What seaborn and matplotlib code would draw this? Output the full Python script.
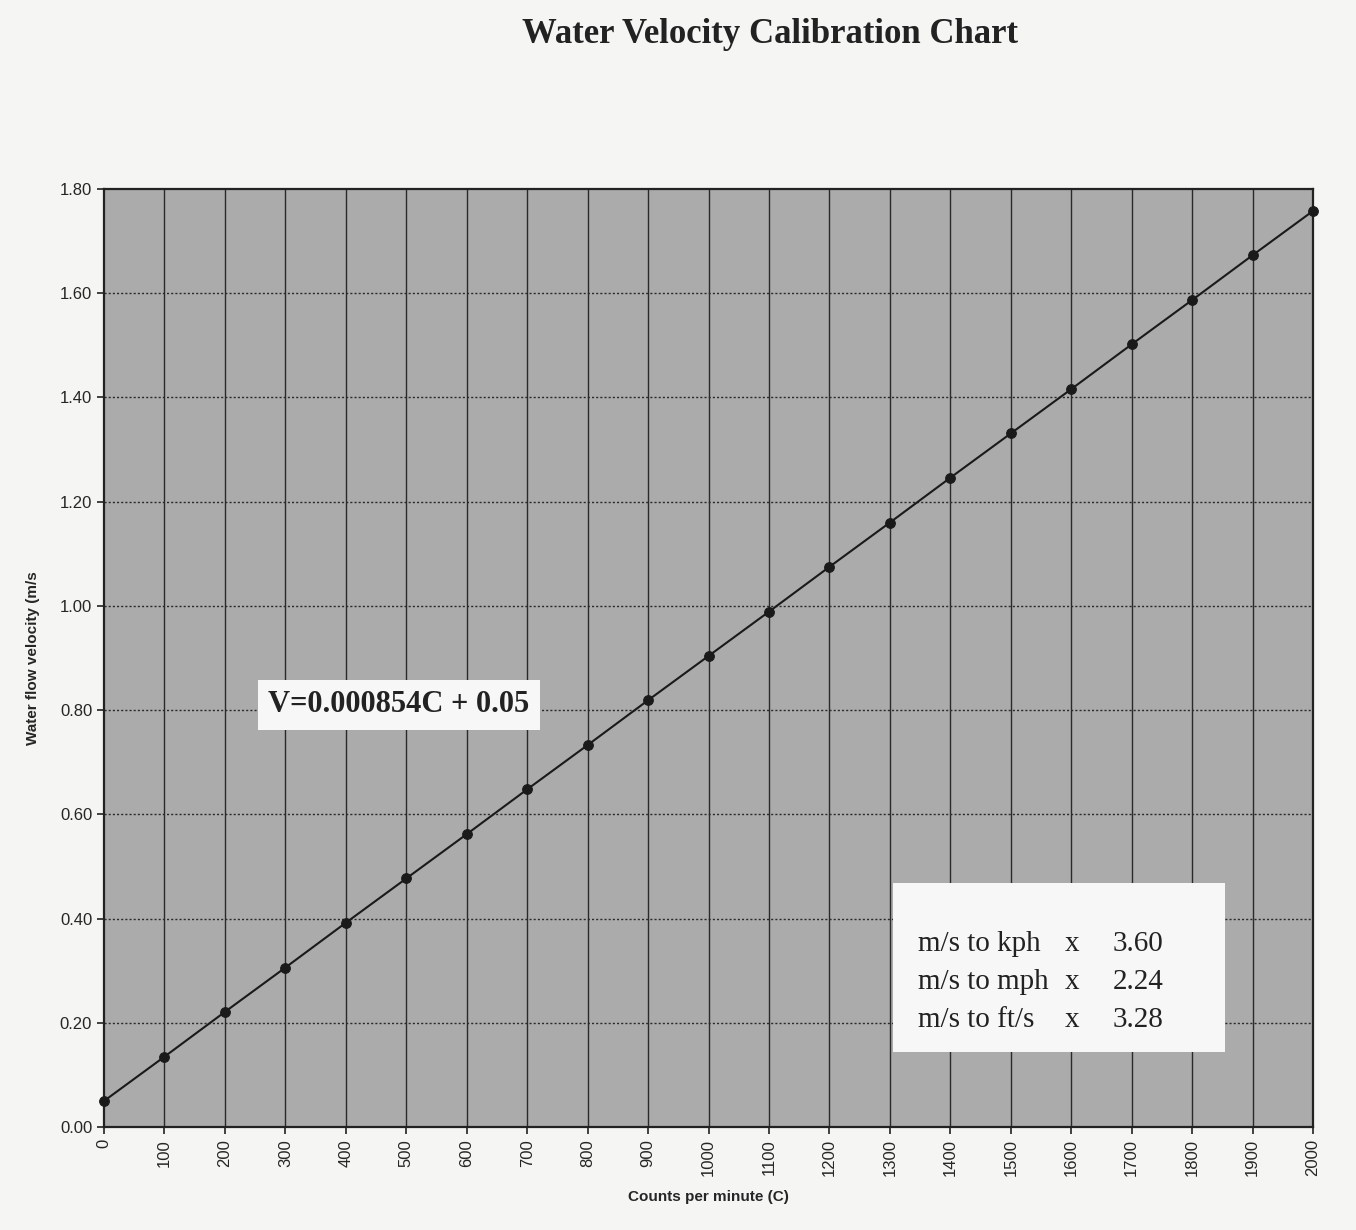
import matplotlib
matplotlib.use("Agg")
import matplotlib.pyplot as plt
from matplotlib.patches import Rectangle
import seaborn as sns
import pandas as pd

# ----------- Data -----------
counts = [0, 100, 200, 300, 400, 500, 600, 700, 800, 900, 1000,
          1100, 1200, 1300, 1400, 1500, 1600, 1700, 1800, 1900, 2000]
velocity = [0.05, 0.135, 0.221, 0.306, 0.392, 0.477, 0.562, 0.648, 0.733, 0.819, 0.904,
            0.989, 1.075, 1.160, 1.246, 1.331, 1.416, 1.502, 1.587, 1.673, 1.758]
y_ticks = [0.0, 0.2, 0.4, 0.6, 0.8, 1.0, 1.2, 1.4, 1.6, 1.8]
equation = 'V=0.000854C + 0.05'
conversions = [('m/s to kph', 'x', '3.60'),
               ('m/s to mph', 'x', '2.24'),
               ('m/s to ft/s', 'x', '3.28')]

df = pd.DataFrame({'counts': counts, 'velocity': velocity})

# ----------- Plot -----------
sns.set_style('ticks')
plt.rcParams['font.family'] = ['Liberation Sans', 'DejaVu Sans']

fig = plt.figure(figsize=(13.56, 12.30), dpi=100, facecolor='#f5f5f3')
ax = fig.add_axes([0.0767, 0.0837, 0.8916, 0.7626])
ax.set_facecolor('#ababab')

# grid: solid verticals, dotted horizontals
for c in counts[1:-1]:
    ax.axvline(c, color='#2a2a2a', lw=1.0, zorder=1)
for v in y_ticks[1:-1]:
    ax.axhline(v, color='#2a2a2a', lw=1.0, ls=(0, (1.5, 1.5)), zorder=1)

sns.lineplot(data=df, x='counts', y='velocity', ax=ax, color='#1a1a1a',
             lw=1.5, marker='o', markersize=7, markeredgecolor='#1a1a1a',
             markerfacecolor='#1a1a1a', zorder=3, clip_on=False)

ax.set_xlim(0, 2000)
ax.set_ylim(0, 1.8)
ax.set_xticks(counts)
ax.set_xticklabels([str(c) for c in counts], rotation=90, fontsize=12)
ax.set_yticks(y_ticks)
ax.set_yticklabels(['{:.2f}'.format(v) for v in y_ticks], fontsize=12)
ax.tick_params(direction='out', length=5, width=1.2, color='#222222')
for sp in ax.spines.values():
    sp.set_color('#222222')
    sp.set_linewidth(1.6)

ax.set_xlabel('Counts per minute (C)', fontsize=11, fontweight='bold', labelpad=10)
ax.set_ylabel('Water flow velocity (m/s', fontsize=11, fontweight='bold', labelpad=14)

# title
fig.text(0.568, 0.972, 'Water Velocity Calibration Chart', ha='center', va='center',
         fontsize=25, fontweight='bold', family='Liberation Serif', color='#222222')

# equation box
ax.text(488, 0.81, equation, ha='center', va='center', fontsize=22,
        fontweight='bold', family='Liberation Serif', color='#222222', zorder=5,
        bbox=dict(boxstyle='square,pad=0.35', facecolor='#f7f7f7', edgecolor='none'))

# conversion box
ax.add_patch(Rectangle((1305, 0.144), 549, 0.324, facecolor='#f7f7f7',
                       edgecolor='none', zorder=4))
for i, (lab, op_, fac) in enumerate(conversions):
    yy = 0.352 - i * 0.073
    ax.text(1347, yy, lab, ha='left', va='center', fontsize=21,
            family='Liberation Serif', color='#222222', zorder=5)
    ax.text(1601, yy, op_, ha='center', va='center', fontsize=21,
            family='Liberation Serif', color='#222222', zorder=5)
    ax.text(1669, yy, fac, ha='left', va='center', fontsize=21,
            family='Liberation Serif', color='#222222', zorder=5)

plt.savefig('out.png', dpi=100, facecolor=fig.get_facecolor())
